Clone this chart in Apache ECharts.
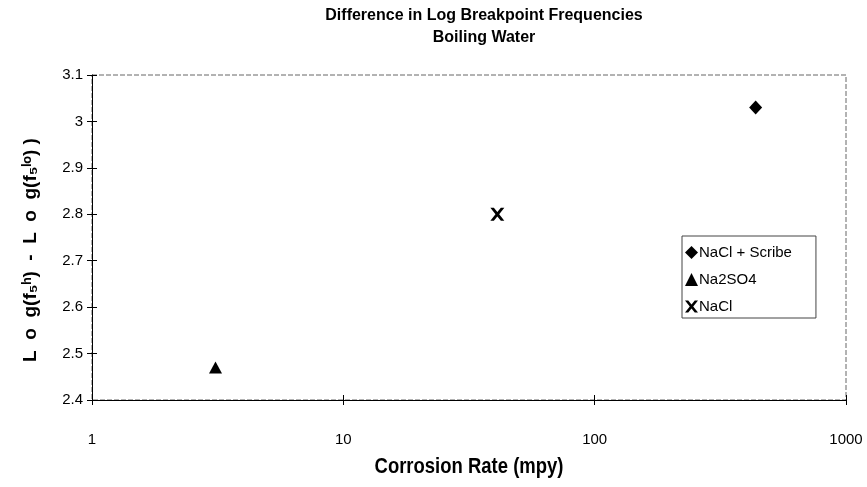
<!DOCTYPE html>
<html>
<head>
<meta charset="utf-8">
<script src="https://cdn.jsdelivr.net/npm/echarts@6/dist/echarts.min.js"></script>
<style>html,body{margin:0;padding:0;background:#fff}#c{width:867px;height:487px}</style>
</head>
<body>
<div id="c"></div>
<script>
var seriesNames = ['NaCl + Scribe', 'Na2SO4', 'NaCl'];
var corrosionRate = [437, 3.1, 41];
var logDiff = [3.03, 2.47, 2.80];
var yTicks = [2.4, 2.5, 2.6, 2.7, 2.8, 2.9, 3.0, 3.1];
var xTicks = [1, 10, 100, 1000];

var FONT = '"Liberation Sans", Arial, sans-serif';
var crossPath = 'path://M0,0 L3,0 L6,3.6 L9,0 L12,0 L7.6,5.5 L12,11 L9,11 L6,7.4 L3,11 L0,11 L4.4,5.5 Z';
var symbols = ['diamond', 'triangle', crossPath];
var sizes = [[13, 14], [13, 12], [14, 13]];
var legendIcons = ['diamond', 'triangle', crossPath];

var W = 867, H = 487;
var G = {left: 92, right: 21, top: 75, bottom: 87};
var plotW = W - G.left - G.right, plotH = H - G.top - G.bottom;

var chart = echarts.init(document.getElementById('c'), null, {renderer: 'canvas'});
var baseX = {type: 'log', logBase: 10, min: xTicks[0], max: xTicks[xTicks.length - 1]};
var baseY = {type: 'value', min: yTicks[0], max: yTicks[yTicks.length - 1], interval: 0.1};

var series = seriesNames.map(function (n, i) {
  return {
    name: n, type: 'scatter', xAxisIndex: 0, yAxisIndex: 0,
    symbol: symbols[i], symbolSize: sizes[i],
    itemStyle: {color: '#000', opacity: 1},
    emphasis: {disabled: true},
    data: [[corrosionRate[i], logDiff[i]]]
  };
});

chart.setOption({
  animation: false,
  backgroundColor: '#fff',
  grid: {left: G.left, right: G.right, top: G.top, bottom: G.bottom, show: true,
         borderColor: '#666', borderWidth: 1, borderType: [5, 2], backgroundColor: 'transparent'},
  xAxis: [
    Object.assign({}, baseX, {
      position: 'bottom',
      axisLine: {lineStyle: {color: '#000', width: 1}},
      axisTick: {length: 5, lineStyle: {color: '#000'}},
      axisLabel: {color: '#000', fontFamily: FONT, fontSize: 15, margin: 32,
                  formatter: function (v) { return String(Math.round(v)); }},
      splitLine: {show: false}, minorTick: {show: false}
    }),
    Object.assign({}, baseX, {
      position: 'top', offset: -plotH,
      axisLine: {show: false},
      axisTick: {show: true, inside: false, length: 5, lineStyle: {color: '#000'}},
      axisLabel: {show: false}, splitLine: {show: false}
    })
  ],
  yAxis: [
    Object.assign({}, baseY, {
      position: 'left',
      axisLine: {show: true, lineStyle: {color: '#000', width: 1}},
      axisTick: {show: true, length: 5, lineStyle: {color: '#000'}},
      axisLabel: {color: '#000', fontFamily: FONT, fontSize: 15, margin: 9},
      splitLine: {show: false}
    }),
    Object.assign({}, baseY, {
      position: 'right', offset: -plotW,
      axisLine: {show: false},
      axisTick: {show: true, inside: false, length: 5, lineStyle: {color: '#000'}},
      axisLabel: {show: false}, splitLine: {show: false}
    })
  ],
  legend: {
    orient: 'vertical', left: 682, top: 236,
    backgroundColor: '#fff', borderColor: '#444', borderWidth: 1,
    padding: [9, 24, 4, 3], itemGap: 12, itemWidth: 13, itemHeight: 13,
    itemStyle: {color: '#000'},
    selectedMode: false,
    textStyle: {color: '#000', fontFamily: FONT, fontSize: 15, padding: [0, 0, 0, -4]},
    data: seriesNames.map(function (n, i) { return {name: n, icon: legendIcons[i]}; })
  },
  graphic: [
    {type: 'text', x: 484, y: 16, style: {text: 'Difference in Log Breakpoint Frequencies', fill: '#000', font: 'bold 16px ' + FONT, textAlign: 'center', textVerticalAlign: 'middle'}},
    {type: 'text', x: 484, y: 38, style: {text: 'Boiling Water', fill: '#000', font: 'bold 16px ' + FONT, textAlign: 'center', textVerticalAlign: 'middle'}},
    {type: 'text', x: 469, y: 467, scaleX: 0.84, style: {text: 'Corrosion Rate (mpy)', fill: '#000', font: 'bold 22px ' + FONT, textAlign: 'center', textVerticalAlign: 'middle'}},
    {type: 'text', x: 31, y: 250, rotation: Math.PI / 2, style: {text: 'L  o  g(f\u2085\u02b0)  -  L  o  g(f\u2085\u02e1\u1d52) )', fill: '#000', font: 'bold 19px ' + FONT, textAlign: 'center', textVerticalAlign: 'middle'}}
  ],
  series: series
});
</script>
</body>
</html>
